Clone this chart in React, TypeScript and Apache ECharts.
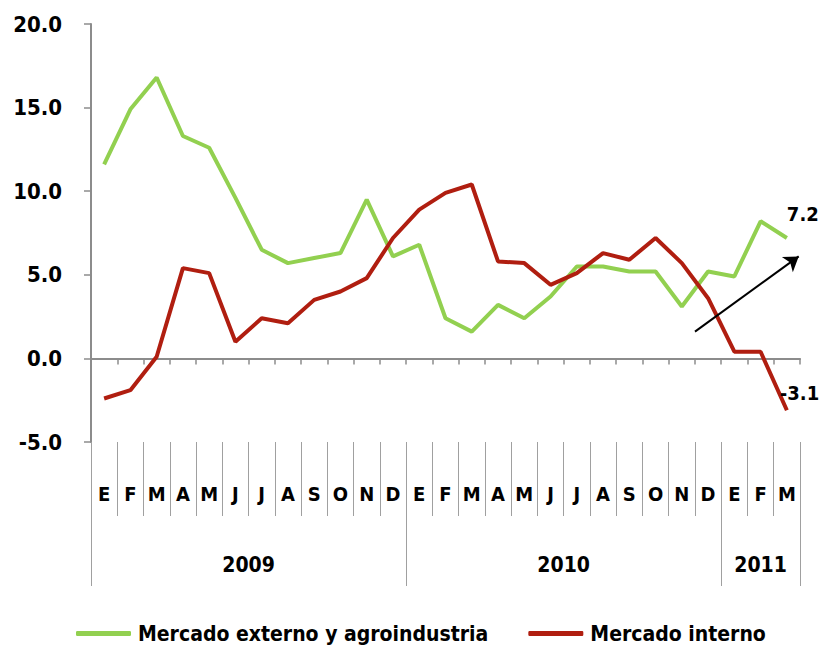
import React, { useEffect, useRef } from 'react';
import * as echarts from 'echarts';

const monthLabels = ['E','F','M','A','M','J','J','A','S','O','N','D','E','F','M','A','M','J','J','A','S','O','N','D','E','F','M'];
const yearLabels = ['2009', '2010', '2011'];
const yearBounds = [0, 12, 24, 27];
const externoName = 'Mercado externo y agroindustria';
const internoName = 'Mercado interno';
const externo = [11.6,14.9,16.8,13.3,12.6,9.6,6.5,5.7,6.0,6.3,9.5,6.1,6.8,2.4,1.6,3.2,2.4,3.7,5.5,5.5,5.2,5.2,3.1,5.2,4.9,8.2,7.2];
const interno = [-2.4,-1.9,0.1,5.4,5.1,1.0,2.4,2.1,3.5,4.0,4.8,7.2,8.9,9.9,10.4,5.8,5.7,4.4,5.1,6.3,5.9,7.2,5.7,3.6,0.4,0.4,-3.1];
const arrowFrom = [23.0, 1.6];
const arrowTo = [26.95, 6.1];

const FONT = "'Liberation Sans Narrow', 'Arial Narrow', 'DejaVu Sans Condensed', sans-serif";
const GREEN = '#92D050';
const RED = '#B01E10';
const GRAY = '#8c8c8c';

export default function App() {
  const ref = useRef<HTMLDivElement>(null);
  useEffect(() => {
    if (!ref.current) return;
    const chart = echarts.init(ref.current, null, { renderer: 'svg' });
    const yearMids = yearLabels.map((_, i) => (yearBounds[i] + yearBounds[i + 1]) / 2);
    const option: any = {
      animation: false,
      backgroundColor: '#ffffff',
      textStyle: { fontFamily: FONT },
      grid: { left: 91, right: 21, top: 24, bottom: 204 },
      legend: {
        data: [externoName, internoName],
        left: 71,
        top: 618,
        width: 745,
        icon: 'roundRect',
        itemWidth: 55,
        itemHeight: 5,
        itemGap: 40,
        textStyle: { fontFamily: FONT, fontSize: 21, fontWeight: 'bold', color: '#000', padding: [0, 0, 0, 2] },
      },
      xAxis: [
        {
          type: 'category',
          data: monthLabels,
          position: 'bottom',
          boundaryGap: true,
          axisLine: { onZero: true, lineStyle: { color: GRAY, width: 2 } },
          axisTick: { show: true, length: 6, lineStyle: { color: GRAY, width: 1.5 } },
          axisLabel: { show: false },
          splitLine: { show: false },
        },
        {
          type: 'category',
          data: monthLabels,
          position: 'bottom',
          boundaryGap: true,
          axisLine: { show: false, onZero: false },
          axisTick: { show: true, length: 74, interval: 0, lineStyle: { color: '#a0a0a0', width: 1 } },
          axisLabel: { show: true, interval: 0, margin: 42, fontFamily: FONT, fontSize: 20, fontWeight: 'bold', color: '#000' },
          splitLine: { show: false },
        },
        {
          type: 'value',
          min: yearBounds[0],
          max: yearBounds[yearBounds.length - 1],
          position: 'bottom',
          axisLine: { show: false, onZero: false },
          axisTick: { show: true, length: 144, customValues: yearBounds, lineStyle: { color: '#a0a0a0', width: 1 } },
          axisLabel: {
            show: true,
            margin: 112,
            customValues: yearMids,
            formatter: (v: number) => {
              const i = yearMids.findIndex((m) => Math.abs(m - v) < 1e-6);
              return i >= 0 ? yearLabels[i] : '';
            },
            fontFamily: FONT,
            fontSize: 21,
            fontWeight: 'bold',
            color: '#000',
          },
          splitLine: { show: false },
        },
      ],
      yAxis: {
        type: 'value',
        min: -5,
        max: 20,
        interval: 5,
        axisLine: { show: true, onZero: false, lineStyle: { color: GRAY, width: 2 } },
        axisTick: { show: true, length: 7, lineStyle: { color: GRAY, width: 1.5 } },
        axisLabel: {
          margin: 29,
          formatter: (v: number) => v.toFixed(1),
          fontFamily: FONT,
          fontSize: 22,
          fontWeight: 'bold',
          color: '#000',
        },
        splitLine: { show: false },
      },
      series: [
        {
          name: externoName,
          type: 'line',
          xAxisIndex: 0,
          data: externo,
          symbol: 'none',
          color: GREEN,
          lineStyle: { color: GREEN, width: 4 },
          endLabel: {
            show: true,
            formatter: (p: any) => Number(p.value).toFixed(1),
            offset: [-8, -24],
            fontFamily: FONT,
            fontSize: 20,
            fontWeight: 'bold',
            color: '#000',
          },
        },
        {
          name: internoName,
          type: 'line',
          xAxisIndex: 0,
          data: interno,
          symbol: 'none',
          color: RED,
          lineStyle: { color: RED, width: 4 },
          endLabel: {
            show: true,
            formatter: (p: any) => Number(p.value).toFixed(1),
            offset: [-15, -17],
            fontFamily: FONT,
            fontSize: 20,
            fontWeight: 'bold',
            color: '#000',
          },
        },
        {
          name: 'arrow',
          type: 'line',
          xAxisIndex: 2,
          data: [],
          silent: true,
          markLine: {
            silent: true,
            symbol: ['none', 'arrow'],
            symbolSize: 14,
            label: { show: false },
            lineStyle: { color: '#000', width: 2, type: 'solid' },
            data: [[{ coord: arrowFrom }, { coord: arrowTo }]],
          },
        },
      ],
    };
    chart.setOption(option);
    return () => chart.dispose();
  }, []);
  return <div ref={ref} style={{ position: 'absolute', left: 0, top: 0, width: 821, height: 646 }} />;
}
